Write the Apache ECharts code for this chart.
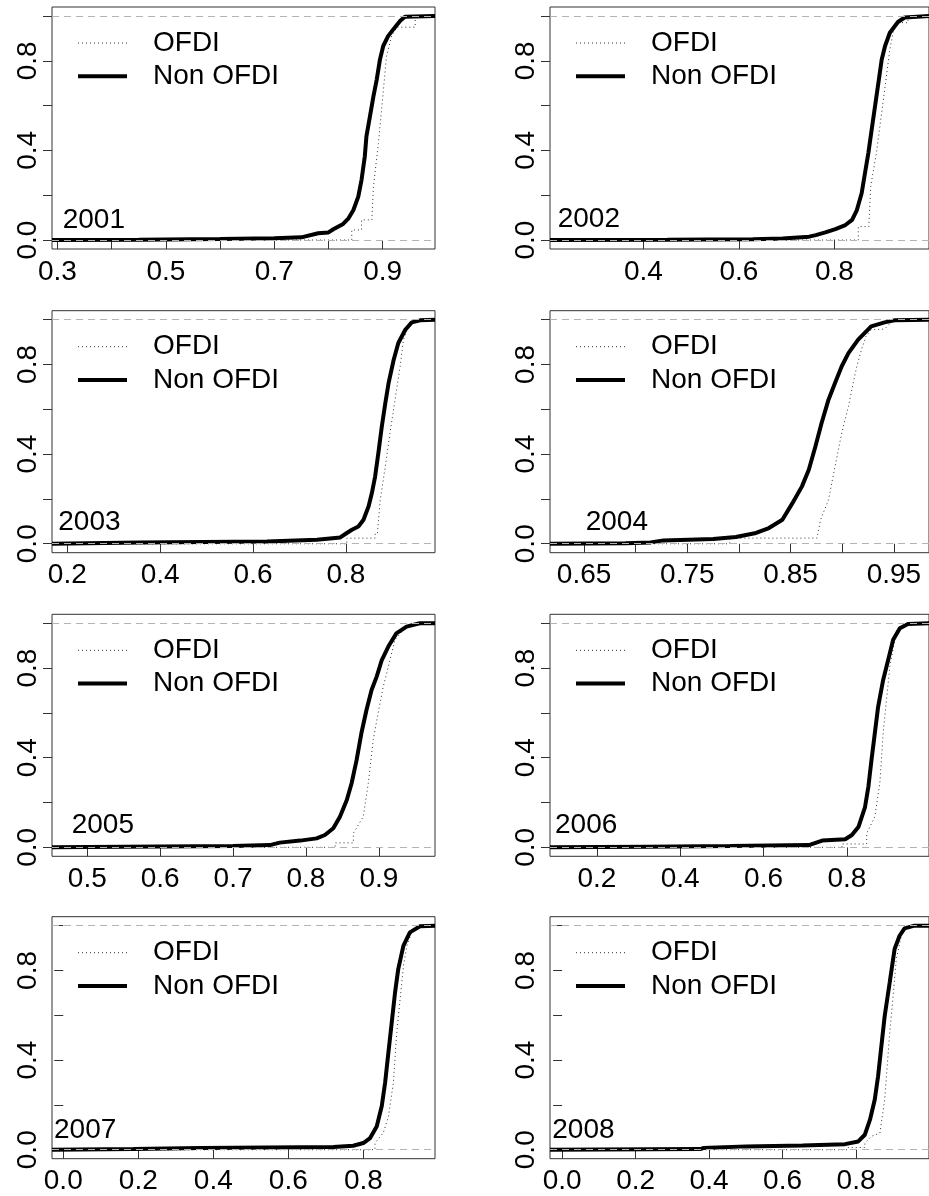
<!DOCTYPE html>
<html>
<head>
<meta charset="utf-8">
<script src="https://cdn.jsdelivr.net/npm/echarts@6/dist/echarts.min.js"></script>
<style>
  html, body { margin: 0; padding: 0; background: #fff; }
  #chart { width: 929px; height: 1196px; }
</style>
</head>
<body>
<div id="chart"></div>
<script>
// ECDF curves, [x, F(x)]
var years = ['2001', '2002', '2003', '2004', '2005', '2006', '2007', '2008'];

var non2001 = [[0.290,0],[0.45,0.001],[0.60,0.005],[0.70,0.008],[0.750,0.012],[0.781,0.03],[0.800,0.034],[0.809,0.048],[0.827,0.072],[0.837,0.097],[0.846,0.134],[0.855,0.194],[0.861,0.269],[0.867,0.373],[0.870,0.463],[0.8765,0.552],[0.883,0.642],[0.889,0.716],[0.895,0.806],[0.901,0.866],[0.910,0.910],[0.9195,0.940],[0.932,0.978],[0.941,0.997],[0.9965,1]];
var ofdi2001 = [[0.290,0],[0.843,0],[0.843,0.045],[0.861,0.045],[0.861,0.09],[0.880,0.09],[0.883,0.24],[0.892,0.43],[0.901,0.66],[0.907,0.82],[0.9165,0.91],[0.926,0.95],[0.960,0.95],[0.960,1],[0.9965,1]];

var non2002 = [[0.2045,0],[0.45,0.001],[0.629,0.004],[0.6915,0.007],[0.747,0.015],[0.761,0.022],[0.781,0.034],[0.802,0.049],[0.823,0.067],[0.837,0.09],[0.847,0.134],[0.857,0.209],[0.864,0.299],[0.871,0.388],[0.878,0.493],[0.885,0.597],[0.892,0.701],[0.899,0.806],[0.906,0.866],[0.916,0.925],[0.933,0.973],[0.947,0.993],[0.998,1]];
var ofdi2002 = [[0.2045,0],[0.850,0],[0.850,0.06],[0.872,0.06],[0.876,0.24],[0.888,0.39],[0.899,0.57],[0.907,0.70],[0.916,0.85],[0.926,0.963],[0.940,0.97],[0.954,0.97],[0.954,1],[0.998,1]];

var non2003 = [[0.167,0],[0.357,0.006],[0.630,0.010],[0.7375,0.018],[0.788,0.028],[0.802,0.048],[0.813,0.0625],[0.827,0.077],[0.838,0.107],[0.849,0.167],[0.856,0.226],[0.863,0.30],[0.870,0.405],[0.8775,0.524],[0.885,0.628],[0.892,0.717],[0.903,0.821],[0.913,0.896],[0.928,0.955],[0.942,0.988],[0.960,0.997],[0.992,1]];
var ofdi2003 = [[0.167,0],[0.802,0],[0.802,0.025],[0.863,0.025],[0.863,0.048],[0.868,0.048],[0.874,0.196],[0.885,0.345],[0.895,0.494],[0.906,0.643],[0.917,0.792],[0.924,0.91],[0.935,0.97],[0.946,1],[0.992,1]];

var non2004 = [[0.617,0],[0.690,0.002],[0.7144,0.006],[0.727,0.015],[0.775,0.021],[0.797,0.030],[0.8165,0.048],[0.829,0.07],[0.842,0.107],[0.8516,0.18],[0.861,0.256],[0.8676,0.33],[0.874,0.434],[0.880,0.539],[0.8867,0.643],[0.893,0.717],[0.8995,0.792],[0.906,0.851],[0.9154,0.911],[0.928,0.97],[0.941,0.988],[0.9505,0.997],[0.984,1]];
var ofdi2004 = [[0.617,0],[0.791,0],[0.791,0.025],[0.8755,0.025],[0.879,0.107],[0.8867,0.196],[0.893,0.345],[0.8995,0.494],[0.906,0.613],[0.9106,0.717],[0.914,0.79],[0.9186,0.866],[0.923,0.926],[0.928,0.955],[0.941,0.958],[0.950,1],[0.984,1]];

var non2005 = [[0.4516,0],[0.5495,0.003],[0.700,0.006],[0.7506,0.01],[0.764,0.021],[0.792,0.03],[0.8146,0.04],[0.826,0.055],[0.8375,0.085],[0.8466,0.137],[0.856,0.211],[0.8626,0.286],[0.8695,0.39],[0.876,0.509],[0.883,0.613],[0.890,0.702],[0.897,0.762],[0.904,0.836],[0.913,0.896],[0.924,0.955],[0.938,0.985],[0.956,1],[0.977,1]];
var ofdi2005 = [[0.4516,0],[0.840,0],[0.840,0.02],[0.865,0.02],[0.865,0.0625],[0.8786,0.137],[0.8855,0.286],[0.8923,0.48],[0.899,0.6],[0.906,0.717],[0.913,0.806],[0.922,0.926],[0.931,0.96],[0.943,0.993],[0.956,1],[0.977,1]];

var non2006 = [[0.0876,0],[0.321,0.003],[0.519,0.006],[0.709,0.01],[0.7406,0.03],[0.796,0.036],[0.812,0.055],[0.828,0.092],[0.8435,0.18],[0.8515,0.27],[0.859,0.39],[0.867,0.509],[0.875,0.628],[0.887,0.747],[0.899,0.836],[0.911,0.926],[0.927,0.978],[0.9465,0.997],[0.997,1]];
var ofdi2006 = [[0.0876,0],[0.788,0],[0.788,0.015],[0.8475,0.015],[0.8475,0.0625],[0.867,0.137],[0.879,0.286],[0.887,0.509],[0.895,0.658],[0.903,0.806],[0.915,0.926],[0.931,0.978],[0.946,0.997],[0.997,1]];

var non2007 = [[-0.030,0],[0.187,0.003],[0.3644,0.0075],[0.72,0.012],[0.773,0.018],[0.80,0.03],[0.818,0.052],[0.8356,0.104],[0.849,0.194],[0.858,0.299],[0.8667,0.433],[0.8756,0.567],[0.8844,0.70],[0.893,0.806],[0.9067,0.91],[0.924,0.97],[0.951,0.997],[0.991,1]];
var ofdi2007 = [[-0.030,0],[0.831,0],[0.831,0.03],[0.853,0.075],[0.867,0.149],[0.88,0.299],[0.889,0.522],[0.898,0.672],[0.907,0.821],[0.916,0.91],[0.929,0.97],[0.951,0.997],[0.991,1]];

var non2008 = [[-0.033,0],[0.3755,0.003],[0.384,0.0075],[0.501,0.015],[0.654,0.019],[0.770,0.025],[0.806,0.037],[0.824,0.067],[0.838,0.134],[0.851,0.224],[0.860,0.328],[0.869,0.463],[0.878,0.597],[0.8916,0.746],[0.905,0.896],[0.9185,0.955],[0.932,0.988],[0.959,1],[0.9986,1]];
var ofdi2008 = [[-0.033,0],[0.779,0],[0.779,0.01],[0.824,0.01],[0.824,0.03],[0.842,0.06],[0.865,0.075],[0.878,0.224],[0.8916,0.52],[0.90,0.67],[0.9095,0.85],[0.923,0.955],[0.936,0.985],[0.959,1],[0.9986,1]];

// x axis ranges, ticks and tick labels per panel
var xMin = [0.290, 0.2045, 0.167, 0.617, 0.4516, 0.0876, -0.030, -0.033];
var xMax = [0.9965, 0.998, 0.992, 0.984, 0.977, 0.997, 0.991, 0.9986];
var xTicks = [
    [0.3, 0.4, 0.5, 0.6, 0.7, 0.8, 0.9],
    [0.4, 0.6, 0.8],
    [0.2, 0.4, 0.6, 0.8],
    [0.65, 0.7, 0.75, 0.8, 0.85, 0.9, 0.95],
    [0.5, 0.6, 0.7, 0.8, 0.9],
    [0.2, 0.4, 0.6, 0.8],
    [0, 0.2, 0.4, 0.6, 0.8],
    [0, 0.2, 0.4, 0.6, 0.8]
];
var xLabels = [
    [0.3, 0.5, 0.7, 0.9],
    [0.4, 0.6, 0.8],
    [0.2, 0.4, 0.6, 0.8],
    [0.65, 0.75, 0.85, 0.95],
    [0.5, 0.6, 0.7, 0.8, 0.9],
    [0.2, 0.4, 0.6, 0.8],
    [0, 0.2, 0.4, 0.6, 0.8],
    [0, 0.2, 0.4, 0.6, 0.8]
];
var xDigits = [1, 1, 1, 2, 1, 1, 1, 1];
var yTicks = [0, 0.2, 0.4, 0.6, 0.8, 1];
var yLabels = [0, 0.4, 0.8];

var nonData = [non2001, non2002, non2003, non2004, non2005, non2006, non2007, non2008];
var ofdiData = [ofdi2001, ofdi2002, ofdi2003, ofdi2004, ofdi2005, ofdi2006, ofdi2007, ofdi2008];

// layout (pixels)
var colLeft = [52, 550];
var rowTop = [7, 310.7, 614.3, 916.7];
var boxW = 383, boxH = 242;
var yearPos = [[62.7, 219], [557.7, 218.3], [58.3, 521.7], [585.7, 521.7],
               [71.7, 824], [555, 824], [54, 1129.3], [552.3, 1129.3]];

var FONT = '"Liberation Sans", Arial, Helvetica, sans-serif';
var FS = 28;

var grids = [], xAxes = [], yAxes = [], series = [], legends = [], graphics = [];

years.forEach(function (yr, i) {
    var left = colLeft[i % 2];
    var top = rowTop[Math.floor(i / 2)];
    grids.push({
        left: left, top: top, width: boxW, height: boxH,
        show: true, borderColor: '#333', borderWidth: 1, backgroundColor: 'transparent'
    });
    xAxes.push({
        type: 'value', gridIndex: i, min: xMin[i], max: xMax[i],
        axisLine: { show: false },
        splitLine: { show: false },
        axisTick: { show: true, length: 9, customValues: xTicks[i], lineStyle: { color: '#333' } },
        axisLabel: {
            customValues: xLabels[i], margin: 9, color: '#000', fontSize: FS, fontFamily: FONT,
            formatter: (function (d) { return function (v) { return v.toFixed(d); }; })(xDigits[i])
        }
    });
    yAxes.push({
        type: 'value', gridIndex: i, min: -0.04, max: 1.04,
        axisLine: { show: false },
        splitLine: { show: false },
        axisTick: { show: true, length: 9, customValues: yTicks, lineStyle: { color: '#333' } },
        axisLabel: {
            customValues: yLabels, rotate: 90, margin: 10, color: '#000', fontSize: FS, fontFamily: FONT,
            formatter: function (v) { return v.toFixed(1); }
        }
    });
    series.push({
        name: 'OFDI', type: 'line', xAxisIndex: i, yAxisIndex: i,
        data: ofdiData[i], symbol: 'none', smooth: false, z: 3,
        lineStyle: { color: '#333', width: 1, type: [1, 3] },
        itemStyle: { color: '#333' },
        markLine: {
            silent: true, symbol: 'none', label: { show: false },
            lineStyle: { color: '#b3b3b3', width: 1, type: [7, 5] },
            data: [{ yAxis: 0 }, { yAxis: 1 }]
        }
    });
    series.push({
        name: 'Non OFDI', type: 'line', xAxisIndex: i, yAxisIndex: i,
        data: nonData[i], symbol: 'none', smooth: false, z: 4,
        lineStyle: { color: '#000', width: 4 },
        itemStyle: { color: '#000' }
    });
    legends.push({
        data: ['OFDI', 'Non OFDI'],
        orient: 'vertical', left: left + 24, top: top + 22,
        itemWidth: 49, itemHeight: 28, itemGap: 5.3, padding: 0,
        itemStyle: { opacity: 0 },
        lineStyle: { width: 'inherit', type: 'inherit' },
        textStyle: { fontSize: FS, fontFamily: FONT, color: '#000', padding: [0, 0, 0, 21] }
    });
    graphics.push({
        type: 'text', left: yearPos[i][0], top: yearPos[i][1] - 13,
        style: { text: yr, fontSize: FS, fontFamily: FONT, fill: '#000' }
    });
});

var chart = echarts.init(document.getElementById('chart'), null, { renderer: 'canvas' });
chart.setOption({
    backgroundColor: '#fff',
    animation: false,
    grid: grids,
    xAxis: xAxes,
    yAxis: yAxes,
    legend: legends,
    series: series,
    graphic: graphics
});
</script>
</body>
</html>
